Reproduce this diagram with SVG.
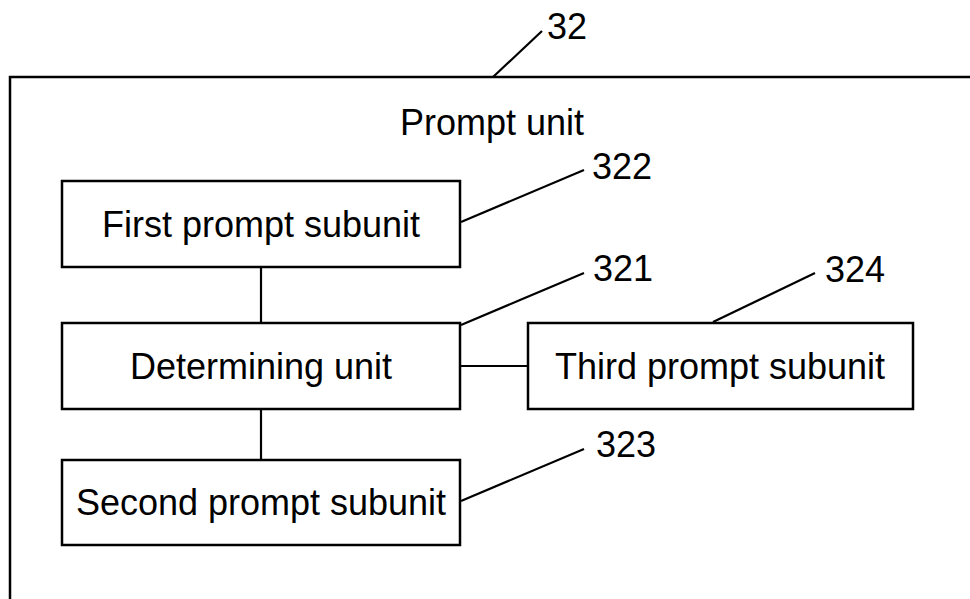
<svg xmlns="http://www.w3.org/2000/svg" width="970" height="599" viewBox="0 0 970 599">
<style>
.box{fill:#fff;stroke:#000;stroke-width:2.5}
.ln{fill:none;stroke:#000;stroke-width:2.2}
text{font-family:"Liberation Sans",Arial,sans-serif;font-size:36px;fill:#000}
.c{text-anchor:middle}
</style>
<rect width="970" height="599" fill="#fff"/>
<g id="prompt-unit">
<path class="box" d="M974 77 H10 V604"/>
<text class="c" x="492" y="135">Prompt unit</text>
<path class="ln" d="M493 77 L542 31"/>
<text x="547" y="39">32</text>
</g>
<g id="connectors">
<path class="ln" d="M261 267 V323"/>
<path class="ln" d="M261 409 V460"/>
<path class="ln" d="M460 366 H528"/>
</g>
<g id="n322">
<rect class="box" x="62" y="181" width="398" height="86"/>
<text class="c" x="261" y="237">First prompt subunit</text>
<path class="ln" d="M461 222 L584 170"/>
<text x="592" y="179">322</text>
</g>
<g id="n321">
<rect class="box" x="62" y="323" width="398" height="86"/>
<text class="c" x="261" y="379">Determining unit</text>
<path class="ln" d="M461 325 L520 300 L584 273"/>
<text x="593" y="281">321</text>
</g>
<g id="n324">
<rect class="box" x="528" y="323" width="385" height="86"/>
<text class="c" x="720" y="379">Third prompt subunit</text>
<path class="ln" d="M713 322 L815 273"/>
<text x="825" y="282">324</text>
</g>
<g id="n323">
<rect class="box" x="62" y="460" width="398" height="85"/>
<text class="c" x="261" y="515">Second prompt subunit</text>
<path class="ln" d="M461 501 L584 449"/>
<text x="596" y="457">323</text>
</g>
</svg>
